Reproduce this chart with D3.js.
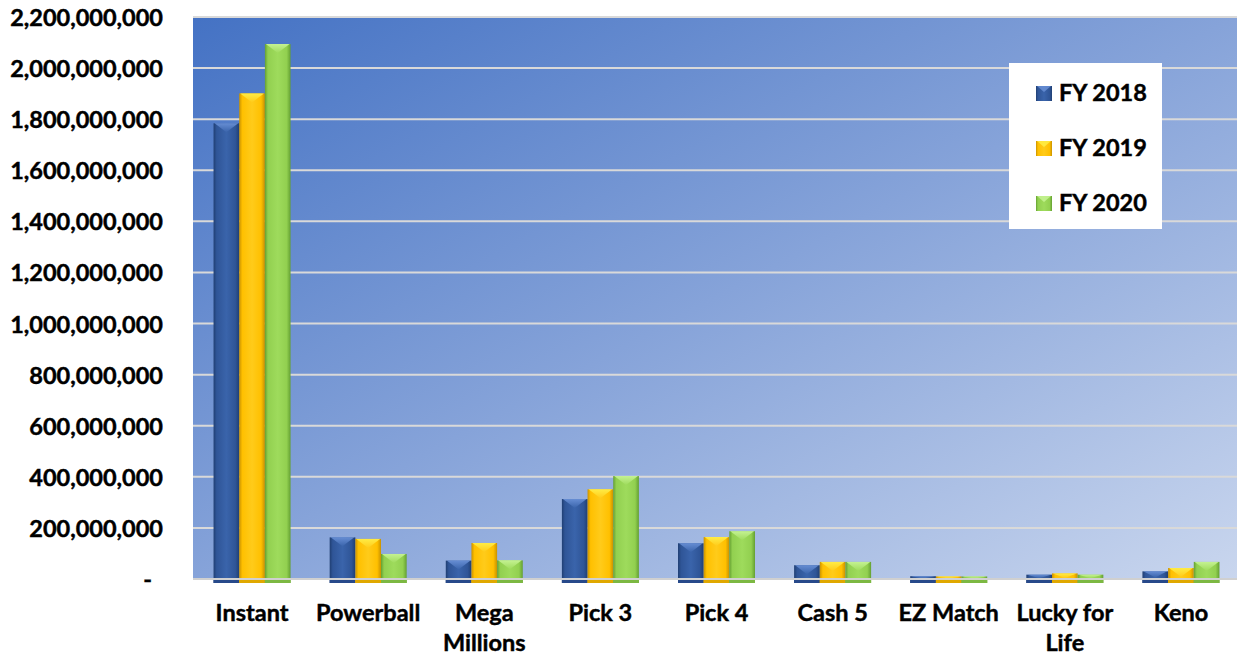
<!DOCTYPE html>
<html><head><meta charset="utf-8">
<script src="https://cdn.jsdelivr.net/npm/d3@7"></script>
<style>
html,body{margin:0;padding:0;background:#fff;}
svg text{font-family:Lato,"Open Sans",sans-serif;font-weight:bold;fill:#000;stroke:#000;stroke-width:0.45px;}
</style></head>
<body>
<svg id="chart" width="1237" height="655"></svg>
<script>
const categories = ["Instant","Powerball","Mega Millions","Pick 3","Pick 4","Cash 5","EZ Match","Lucky for Life","Keno"];
const categoryLines = [["Instant"],["Powerball"],["Mega","Millions"],["Pick 3"],["Pick 4"],["Cash 5"],["EZ Match"],["Lucky for","Life"],["Keno"]];
const seriesNames = ["FY 2018","FY 2019","FY 2020"];
const fy2018 = [1784000000,163000000,72000000,313000000,140000000,54000000,11000000,17000000,30000000];
const fy2019 = [1901000000,157000000,141000000,351000000,164000000,67000000,10000000,22000000,43000000];
const fy2020 = [2094000000,98000000,73000000,403000000,187000000,67000000,10000000,17000000,67000000];
const yTicks = [0,200000000,400000000,600000000,800000000,1000000000,1200000000,1400000000,1600000000,1800000000,2000000000,2200000000];

const seriesValues = [fy2018, fy2019, fy2020];
const palette = [
  {main:"#2f5597", edge:"#203f73", light:"#3a64ab", bevel:"#6b92d8", base:"#27498a"},
  {main:"#ffc000", edge:"#c99200", light:"#ffcb1a", bevel:"#fff04a", base:"#e0a800"},
  {main:"#92d050", edge:"#64a032", light:"#9edb5c", bevel:"#c9f598", base:"#7cb842"}
];

const svg = d3.select("#chart");
const plot = {left:193, right:1237, top:17, bottom:579};

const y = d3.scaleLinear().domain([0,2200000000]).range([plot.bottom, plot.top]);
const x0 = d3.scaleBand().domain(categories).range([194,1239]).padding(0);
const groupW = 77;
const x1 = d3.scaleBand().domain(seriesNames).range([0, groupW]).padding(0);

const defs = svg.append("defs");
const bg = defs.append("linearGradient").attr("id","bg").attr("x1","0").attr("y1","0").attr("x2","1").attr("y2","1");
bg.append("stop").attr("offset","0%").attr("stop-color","#4472c4");
bg.append("stop").attr("offset","50%").attr("stop-color","#86a3d9");
bg.append("stop").attr("offset","100%").attr("stop-color","#c9d6ee");

palette.forEach((p,i)=>{
  const g = defs.append("linearGradient").attr("id","bar"+i).attr("x1","0").attr("x2","1").attr("y1","0").attr("y2","0");
  g.append("stop").attr("offset","0%").attr("stop-color",p.edge);
  g.append("stop").attr("offset","12%").attr("stop-color",p.main);
  g.append("stop").attr("offset","50%").attr("stop-color",p.light);
  g.append("stop").attr("offset","85%").attr("stop-color",p.main);
  g.append("stop").attr("offset","100%").attr("stop-color",p.edge);
  const t = defs.append("linearGradient").attr("id","bev"+i).attr("x1","0").attr("x2","0").attr("y1","0").attr("y2","1");
  t.append("stop").attr("offset","0%").attr("stop-color",p.bevel);
  t.append("stop").attr("offset","100%").attr("stop-color",p.light);
});

// plot background
svg.append("rect").attr("x",plot.left).attr("y",plot.top)
  .attr("width",plot.right-plot.left).attr("height",plot.bottom-plot.top)
  .attr("fill","url(#bg)");

// gridlines
svg.append("g").selectAll("line").data(yTicks.filter(d=>d>0)).join("line")
  .attr("x1",plot.left).attr("x2",plot.right)
  .attr("y1",d=>y(d)).attr("y2",d=>y(d))
  .attr("stroke","#d9d9d9").attr("stroke-width",2);

// y labels
const fmt = d3.format(",");
svg.append("g").selectAll("text").data(yTicks).join("text")
  .attr("x",d=>d===0?152:163).attr("y",d=>y(d)+9)
  .attr("text-anchor","end").attr("font-size","23.5px")
  .text(d=>d===0?"-":fmt(d));

// bars
const groups = svg.append("g").selectAll("g").data(categories).join("g")
  .attr("transform",c=>`translate(${x0(c)+(x0.bandwidth()-groupW)/2},0)`);
const base = plot.bottom + 4;
groups.each(function(c,ci){
  const g = d3.select(this);
  seriesNames.forEach((s,si)=>{
    const v = seriesValues[si][ci];
    const bx = x1(s), bw = x1.bandwidth(), by = y(v);
    g.append("rect").attr("x",bx).attr("y",by).attr("width",bw).attr("height",base-by)
      .attr("fill",`url(#bar${si})`);
    const bh = Math.min(9, (plot.bottom-by)*0.8);
    if (bh>0.5) {
      g.append("polygon")
        .attr("points",`${bx+1},${by} ${bx+bw-1},${by} ${bx+bw/2},${by+bh}`)
        .attr("fill",`url(#bev${si})`).attr("opacity",0.9);
    }
    g.append("rect").attr("x",bx).attr("y",plot.bottom).attr("width",bw).attr("height",4)
      .attr("fill",palette[si].base);
  });
});

// zero line
svg.append("line").attr("x1",plot.left).attr("x2",plot.right)
  .attr("y1",y(0)).attr("y2",y(0)).attr("stroke","#d0d0d0").attr("stroke-width",2);

// category labels
svg.append("g").selectAll("text").data(categories).join("text")
  .attr("x",c=>x0(c)+x0.bandwidth()/2).attr("y",621)
  .attr("text-anchor","middle").attr("font-size","23.5px")
  .each(function(c,i){
    const t = d3.select(this);
    categoryLines[i].forEach((ln,li)=>{
      t.append("tspan").attr("x",x0(c)+x0.bandwidth()/2).attr("dy",li===0?0:30).text(ln);
    });
  });

// legend
const lg = svg.append("g");
lg.append("rect").attr("x",1009).attr("y",63).attr("width",153).attr("height",166).attr("fill","#fff");
const ly = d3.scalePoint().domain(seriesNames).range([93,203]);
seriesNames.forEach((s,i)=>{
  lg.append("rect").attr("x",1036).attr("y",ly(s)-7).attr("width",16).attr("height",15)
    .attr("fill",`url(#bar${i})`);
  lg.append("polygon").attr("points",`${1037},${ly(s)-7} ${1051},${ly(s)-7} ${1044},${ly(s)-1}`)
    .attr("fill",palette[i].bevel).attr("opacity",0.8);
  lg.append("text").attr("x",1059).attr("y",ly(s)+8).attr("font-size","23.5px").text(s);
});
</script>
</body></html>
